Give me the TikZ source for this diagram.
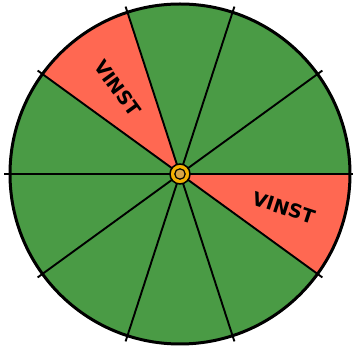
\documentclass[tikz,border=0pt]{standalone}
\usepackage{fontspec}
\setsansfont{DejaVu Sans}
\usepackage{xcolor}
\usetikzlibrary{calc}
\definecolor{field}{HTML}{4A9B45}
\definecolor{prize}{HTML}{FF6852}
\definecolor{hubring}{HTML}{F4B000}
\definecolor{hubcore}{HTML}{D9A647}

\begin{document}
\begin{tikzpicture}[x=1pt,y=1pt,
    spoke/.style={draw=black,line width=1.9pt},
    rim/.style={draw=black,line width=3pt},
    winlbl/.style={font=\sffamily\bfseries\fontsize{19}{19}\selectfont,inner sep=0pt}]
  \useasboundingbox (-180,-173) rectangle (173,174);
  \coordinate (hub) at (0,0);
  % sectors, 10 of 36 degrees
  \foreach \a in {0,36,...,324}{
    \fill[field] (hub) -- (\a:170) arc[start angle=\a,end angle=\a+36,radius=170] -- cycle;}
  \fill[prize] (hub) -- (108:170) arc[start angle=108,end angle=144,radius=170] -- cycle;
  \fill[prize] (hub) -- (-36:170) arc[start angle=-36,end angle=0,radius=170] -- cycle;
  \draw[rim] (hub) circle[radius=170];
  \foreach \a in {0,36,...,324}{
    \coordinate (tip\a) at (\a:176);
    \draw[spoke] (hub) -- (tip\a);}
  \node[winlbl,rotate=-54] (winA) at (126:106) {VINST};
  \node[winlbl,rotate=-18] (winB) at (-18:109) {VINST};
  % hub
  \draw[fill=hubring,line width=1.5pt] (hub) circle[radius=10];
  \draw[fill=hubcore,line width=1.2pt] (hub) circle[radius=5.2];
\end{tikzpicture}
\end{document}
